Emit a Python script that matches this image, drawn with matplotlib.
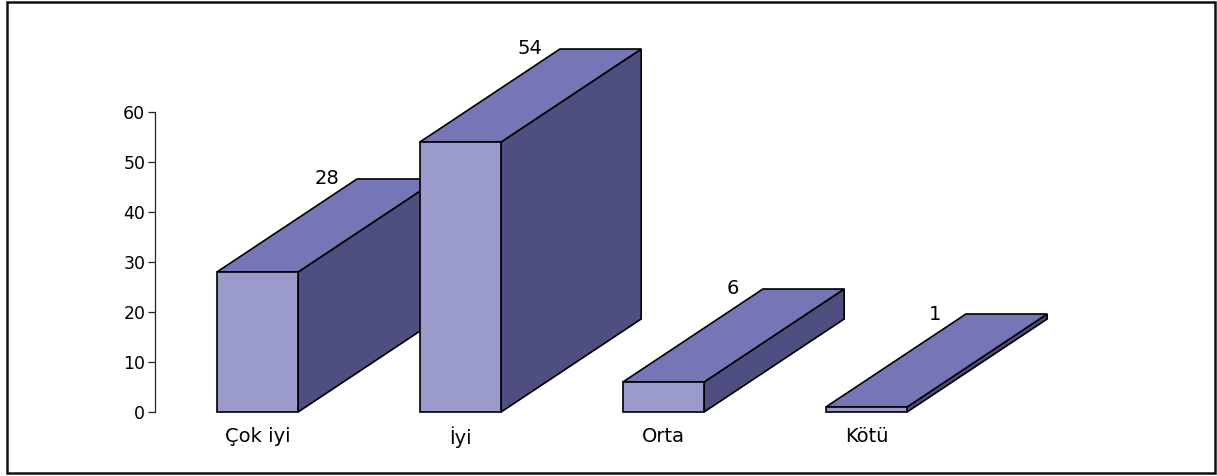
import matplotlib
matplotlib.use("Agg")
import matplotlib.pyplot as plt
from matplotlib.patches import Polygon, Rectangle

plt.rcParams["font.family"] = ["DejaVu Sans"]

# Survey answers and their counts
categories = ["Çok iyi", "İyi", "Orta", "Kötü"]
counts = [28, 54, 6, 1]
y_ticks = [0, 10, 20, 30, 40, 50, 60]

# Pseudo-3D block styling
FRONT = "#9A9ACB"
TOP = "#7676B6"
SIDE = "#4E4E80"
BAR_W = 0.40        # front-face width in category units
DEPTH_X = 0.69      # horizontal depth offset (category units)
DEPTH_Y = 18.6      # vertical depth offset (value units)

W, H = 1217, 476
fig = plt.figure(figsize=(W / 100, H / 100), dpi=100)
fig.patch.set_facecolor("white")

# outer frame around the whole chart
fig.patches.append(Rectangle((6.5 / W, 3 / H), (1214.5 - 6.5) / W, (474 - 3) / H,
                             transform=fig.transFigure, fill=False,
                             edgecolor="#111111", linewidth=1.8))

ax = fig.add_axes([155 / W, (H - 412) / H, (1200 - 155) / W, 400 / H])
ax.set_xlim(-0.505, 4.643)
ax.set_ylim(0, 80)
ax.set_facecolor("none")

for s in ("top", "right", "bottom"):
    ax.spines[s].set_visible(False)
ax.spines["left"].set_bounds(0, 60)
ax.spines["left"].set_linewidth(0.9)
ax.spines["left"].set_color("#222222")

ax.set_yticks(y_ticks)
ax.tick_params(axis="y", direction="out", length=5, width=0.9, pad=2,
               labelsize=12.5, colors="#222222", labelcolor="black")
ax.set_xticks([])

edge = dict(edgecolor="black", linewidth=1.2, joinstyle="miter", clip_on=False)

for i, (cat, v) in enumerate(zip(categories, counts)):
    x0 = i - BAR_W / 2
    x1 = i + BAR_W / 2
    front = Polygon([(x0, 0), (x1, 0), (x1, v), (x0, v)], closed=True,
                    facecolor=FRONT, zorder=3 + i, **edge)
    top = Polygon([(x0, v), (x1, v), (x1 + DEPTH_X, v + DEPTH_Y),
                   (x0 + DEPTH_X, v + DEPTH_Y)], closed=True,
                  facecolor=TOP, zorder=3 + i, **edge)
    side = Polygon([(x1, 0), (x1 + DEPTH_X, DEPTH_Y), (x1 + DEPTH_X, v + DEPTH_Y),
                    (x1, v)], closed=True, facecolor=SIDE, zorder=3 + i, **edge)
    for p in (side, top, front):
        ax.add_patch(p)

    # value label behind the top face
    ax.text(i + 0.34, v + DEPTH_Y, f"{v}", ha="center", va="center",
            fontsize=14, color="black", zorder=10, clip_on=False)
    # category label under the block
    ax.text(i, -5, cat, ha="center", va="center", fontsize=14,
            color="black", clip_on=False)

fig.savefig("out.png", dpi=100, facecolor="white")
